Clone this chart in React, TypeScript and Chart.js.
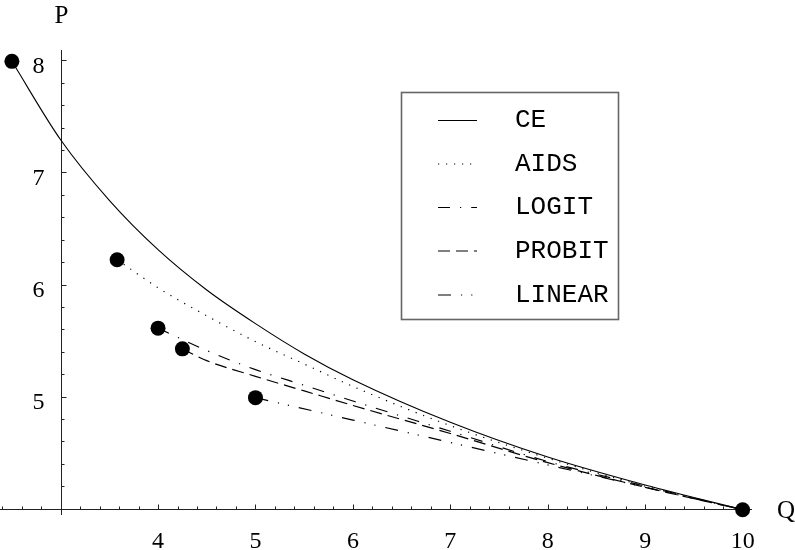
import React, { useEffect, useRef } from 'react';
import { Chart, registerables } from 'chart.js';

Chart.register(...registerables);

// ---- data ----
const ceQ = [2.5, 3, 3.5, 4, 4.5, 5, 5.5, 6, 7, 8, 9, 10];
const ceP = [8, 7.3, 6.76, 6.32, 5.96, 5.66, 5.39, 5.16, 4.78, 4.47, 4.22, 4.0];

const aidsQ = [3.58, 4, 4.5, 5, 5.5, 6, 7, 8, 9, 10];
const aidsP = [6.23, 5.98, 5.73, 5.5, 5.3, 5.1, 4.75, 4.46, 4.21, 4.0];

const logitQ = [4, 4.5, 5, 5.5, 6, 7, 8, 9, 10];
const logitP = [5.62, 5.42, 5.25, 5.11, 4.97, 4.7, 4.43, 4.21, 4.0];

const probitQ = [4.25, 4.5, 5, 5.5, 6, 7, 8, 9, 10];
const probitP = [5.435, 5.33, 5.19, 5.06, 4.93, 4.68, 4.42, 4.2, 4.0];

const linearQ = [5, 6, 7, 8, 9, 10];
const linearP = [5.0, 4.8, 4.6, 4.4, 4.2, 4.0];

const markerQ = [2.5, 3.58, 4, 4.25, 5, 10];
const markerP = [8, 6.23, 5.62, 5.435, 5.0, 4.0];

const seriesNames = ['CE', 'AIDS', 'LOGIT', 'PROBIT', 'LINEAR'];
const xTickValues = [4, 5, 6, 7, 8, 9, 10];
const xTickLabels = ['4', '5', '6', '7', '8', '9', '10'];
const yTickValues = [5, 6, 7, 8];
const yTickLabels = ['5', '6', '7', '8'];
const xAxisTitle = 'Q';
const yAxisTitle = 'P';

const SERIF = '"Liberation Serif", "Times New Roman", serif';
const MONO = '"Liberation Mono", "Courier New", monospace';

const pts = (qs: number[], ps: number[]) => qs.map((q, i) => ({ x: q, y: ps[i] }));

const dashes: number[][] = [[], [1.2, 6.8], [12, 10, 1.2, 10], [12, 6], [13, 10, 1.2, 9, 1.2, 10]];

const axesPlugin = {
  id: 'mmaAxes',
  beforeDatasetsDraw(chart: any) {
    const ctx: CanvasRenderingContext2D = chart.ctx;
    const xs = chart.scales.x;
    const ys = chart.scales.y;
    const a = chart.chartArea;
    const x0 = Math.round(xs.getPixelForValue(3)) + 0.5;
    const y0 = Math.round(ys.getPixelForValue(4)) - 0.5;
    ctx.save();
    ctx.strokeStyle = '#222';
    ctx.lineWidth = 1;
    const seg = (x1: number, y1: number, x2: number, y2: number) => {
      ctx.beginPath();
      ctx.moveTo(x1, y1);
      ctx.lineTo(x2, y2);
      ctx.stroke();
    };
    seg(a.left, y0, a.right, y0);
    seg(x0, a.top, x0, a.bottom);
    // x ticks
    for (let i = 10; i <= 52; i++) {
      const q = i / 5;
      const px = Math.round(xs.getPixelForValue(q)) + 0.5;
      if (px < a.left || px > a.right || i === 15) continue;
      const len = i % 5 === 0 ? 5 : 3;
      seg(px, y0, px, y0 - len);
    }
    // y ticks
    for (let i = 19; i <= 42; i++) {
      const p = i / 5;
      const py = Math.round(ys.getPixelForValue(p)) - 0.5;
      if (py < a.top || py > a.bottom || i === 20) continue;
      const len = i % 5 === 0 ? 5 : 3;
      seg(x0, py, x0 + len, py);
    }
    // tick labels
    ctx.fillStyle = '#000';
    ctx.font = '24px ' + SERIF;
    ctx.textBaseline = 'alphabetic';
    ctx.textAlign = 'center';
    xTickValues.forEach((v, i) => {
      ctx.fillText(xTickLabels[i], xs.getPixelForValue(v), y0 + 38.5);
    });
    ctx.textAlign = 'right';
    yTickValues.forEach((v, i) => {
      ctx.fillText(yTickLabels[i], x0 - 17, ys.getPixelForValue(v) + 11.5);
    });
    // axis titles
    ctx.font = '25px ' + SERIF;
    ctx.textAlign = 'center';
    ctx.fillText(yAxisTitle, x0, 23);
    ctx.textAlign = 'left';
    ctx.fillText(xAxisTitle, 777, y0 + 8.5);

    // legend
    const lx = 401.5, ly = 92.5, lw = 217, lh = 227;
    ctx.strokeStyle = '#666';
    ctx.lineWidth = 1.6;
    ctx.strokeRect(lx, ly, lw, lh);
    ctx.lineWidth = 1;
    ctx.strokeStyle = '#000';
    ctx.font = '26px ' + MONO;
    ctx.textAlign = 'left';
    const rows = [120, 163.5, 207, 250.5, 294.5];
    seriesNames.forEach((name, i) => {
      const ry = rows[i] + 0.5;
      ctx.setLineDash(dashes[i]);
      seg(438, ry, 477, ry);
      ctx.setLineDash([]);
      ctx.fillText(name, 515, rows[i] + 7);
    });
    ctx.restore();
  },
};

export default function App() {
  const ref = useRef<HTMLCanvasElement>(null);
  useEffect(() => {
    document.body.style.margin = '0';
    const lineDs = (label: string, qs: number[], ps: number[], i: number) => ({
      type: 'line' as const,
      label,
      data: pts(qs, ps),
      borderColor: '#000',
      borderWidth: i === 0 ? 1.1 : 1.2,
      borderDash: dashes[i],
      pointRadius: 0,
      fill: false,
      cubicInterpolationMode: 'monotone' as const,
      clip: false as any,
      order: 2,
    });
    const chart = new Chart(ref.current!, {
      type: 'line',
      data: {
        datasets: [
          {
            type: 'scatter',
            label: 'points',
            data: pts(markerQ, markerP),
            backgroundColor: '#000',
            borderColor: '#000',
            borderWidth: 0,
            pointRadius: 7.5,
            showLine: false,
            clip: false as any,
            order: 0,
          } as any,
          lineDs(seriesNames[0], ceQ, ceP, 0),
          lineDs(seriesNames[1], aidsQ, aidsP, 1),
          lineDs(seriesNames[2], logitQ, logitP, 2),
          lineDs(seriesNames[3], probitQ, probitP, 3),
          lineDs(seriesNames[4], linearQ, linearP, 4),
        ],
      },
      options: {
        responsive: false,
        devicePixelRatio: 1,
        animation: false,
        events: [],
        layout: { autoPadding: false, padding: { left: 0, right: 43, top: 50, bottom: 35 } },
        plugins: { legend: { display: false }, tooltip: { enabled: false } },
        scales: {
          x: { type: 'linear', min: 2.378, max: 10.096, display: false },
          y: { type: 'linear', min: 3.953, max: 8.101, display: false },
        },
      },
      plugins: [axesPlugin],
    });
    let alive = true;
    const fs: any = (document as any).fonts;
    if (fs && fs.load) {
      Promise.all([fs.load('24px "Liberation Serif"'), fs.load('26px "Liberation Mono"')])
        .then(() => { if (alive) chart.update('none'); })
        .catch(() => {});
    }
    return () => { alive = false; chart.destroy(); };
  }, []);
  return (
    <div style={{ position: 'fixed', left: 0, top: 0, width: 795, height: 550, background: '#fff' }}>
      <canvas ref={ref} width={795} height={550} style={{ display: 'block', width: 795, height: 550 }} />
    </div>
  );
}
